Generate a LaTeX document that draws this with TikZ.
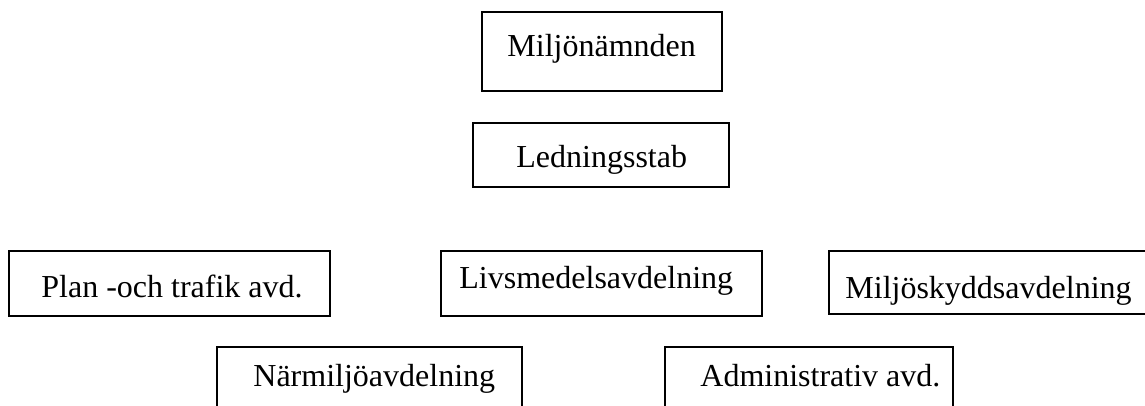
\documentclass[tikz,border=0pt]{standalone}
\usepackage{fontspec}
\setmainfont{Liberation Serif}
\begin{document}
\begin{tikzpicture}[x=0.5pt,y=-0.5pt,
  box/.style={draw, line width=1pt, rectangle, inner sep=0pt, outer sep=0pt, anchor=north west},
  lbl/.style={inner sep=0pt, anchor=base west, font=\fontsize{16pt}{19pt}\selectfont}]
\useasboundingbox (0,0) rectangle (1145,406);
\clip (0,0) rectangle (1145,406);
\node[box, minimum width=120pt, minimum height=39.5pt] (b1) at (482,12) {};
\node[lbl] (t1) at (507,57) {Miljönämnden};
\node[box, minimum width=128pt, minimum height=32pt] (b2) at (473,123) {};
\node[lbl] (t2) at (516,168) {Ledningsstab};
\node[box, minimum width=160.5pt, minimum height=32.5pt] (b3) at (9,251) {};
\node[lbl] (t3) at (41,298) {Plan -och trafik avd.};
\node[box, minimum width=160.5pt, minimum height=32.5pt] (b4) at (441,251) {};
\node[lbl] (t4) at (459,288) {Livsmedelsavdelning};
\node[box, minimum width=168pt, minimum height=31.5pt] (b5) at (829,251) {};
\node[lbl] (t5) at (845,299) {Miljöskyddsavdelning};
\node[box, minimum width=152.5pt, minimum height=40pt] (b6) at (217,347) {};
\node[lbl] (t6) at (253,386) {Närmiljöavdelning};
\node[box, minimum width=144pt, minimum height=40pt] (b7) at (665,347) {};
\node[lbl] (t7) at (700,386) {Administrativ avd.};
\end{tikzpicture}
\end{document}
